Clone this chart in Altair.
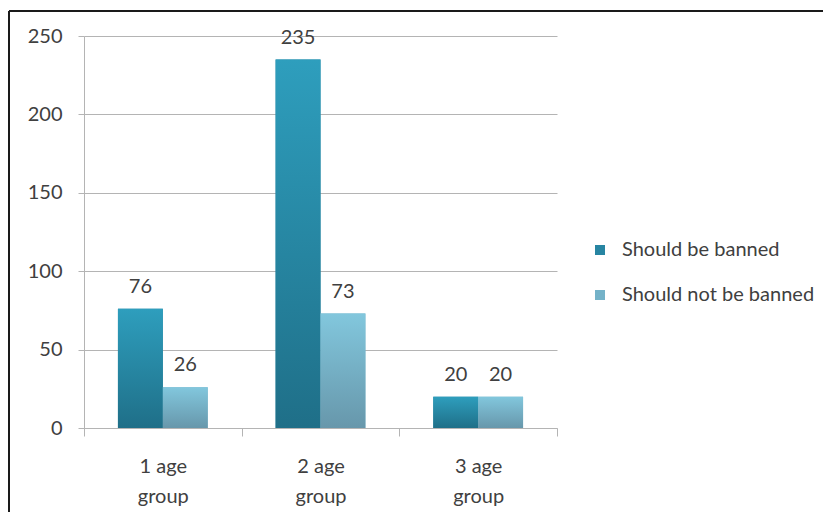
import altair as alt
import pandas as pd

groups = ["1 age group", "2 age group", "3 age group"]
series = ["Should be banned", "Should not be banned"]
banned = [76, 235, 20]
not_banned = [26, 73, 20]
y_ticks = [0, 50, 100, 150, 200, 250]

rows = []
for g, a, b in zip(groups, banned, not_banned):
    rows.append({"group": g, "series": series[0], "value": a})
    rows.append({"group": g, "series": series[1], "value": b})
df = pd.DataFrame(rows)

FONT = "Lato"
TXT = "#404040"
GRID = "#B4B4B4"

grad1 = alt.LinearGradient(gradient="linear", x1=0, y1=0, x2=0, y2=1,
                           stops=[alt.GradientStop(color="#2E9EBD", offset=0),
                                  alt.GradientStop(color="#1F6F88", offset=1)])
grad2 = alt.LinearGradient(gradient="linear", x1=0, y1=0, x2=0, y2=1,
                           stops=[alt.GradientStop(color="#82C7DD", offset=0),
                                  alt.GradientStop(color="#6797AB", offset=1)])

x_enc = alt.X("group:N", sort=groups,
              scale=alt.Scale(paddingInner=0, paddingOuter=0),
              axis=alt.Axis(title=None, labelAngle=0, tickBand="extent",
                            domainColor=GRID, tickColor=GRID, tickSize=8,
                            labelFont=FONT, labelFontSize=20, labelColor=TXT,
                            labelPadding=20, labelLineHeight=30,
                            labelExpr="[substring(datum.label, 0, 5), substring(datum.label, 6, 11)]"))
xo_enc = alt.XOffset("series:N", sort=series,
                     scale=alt.Scale(paddingInner=0, paddingOuter=0.756))
y_enc = alt.Y("value:Q", scale=alt.Scale(domain=[0, 250]),
              axis=alt.Axis(title=None, values=y_ticks, grid=True, gridColor=GRID,
                            domainColor=GRID, tickColor=GRID, tickSize=6,
                            labelFont=FONT, labelFontSize=20, labelColor=TXT,
                            labelPadding=16))

base = alt.Chart(df).encode(x=x_enc, xOffset=xo_enc, y=y_enc)

legend_layer = base.mark_bar().encode(
    color=alt.Color("series:N", sort=series,
                    scale=alt.Scale(domain=series, range=["#2785A2", "#74B2C8"]),
                    legend=alt.Legend(title=None, orient="none", legendX=506, legendY=204,
                                      symbolType="square", symbolSize=100, rowPadding=25,
                                      labelFont=FONT, labelFontSize=20, labelColor=TXT,
                                      labelOffset=12, padding=0, symbolStrokeWidth=0,
                                      labelLimit=400))
)
g1 = base.transform_filter(alt.datum.series == series[0]).mark_bar(fill=grad1)
g2 = base.transform_filter(alt.datum.series == series[1]).mark_bar(fill=grad2)
labels = base.mark_text(font=FONT, fontSize=20, color=TXT, baseline="alphabetic", dy=-16).encode(
    text=alt.Text("value:Q"))

border_top = alt.Chart(df).mark_rule(color="#1A1A1A", strokeWidth=2).encode(
    x=alt.value(-75), x2=alt.value(760), y=alt.value(-25))
border_left = alt.Chart(df).mark_rule(color="#1A1A1A", strokeWidth=2).encode(
    x=alt.value(-75), y=alt.value(-25), y2=alt.value(500))

chart = alt.layer(legend_layer, g1, g2, labels, border_top, border_left).properties(
    width=473, height=392,
    autosize=alt.AutoSizeParams(type="none"),
    padding={"left": 76, "top": 28, "right": 266, "bottom": 84},
).configure_view(stroke=None)

chart.save("out.html", embed_options={"renderer": "svg", "actions": False})
